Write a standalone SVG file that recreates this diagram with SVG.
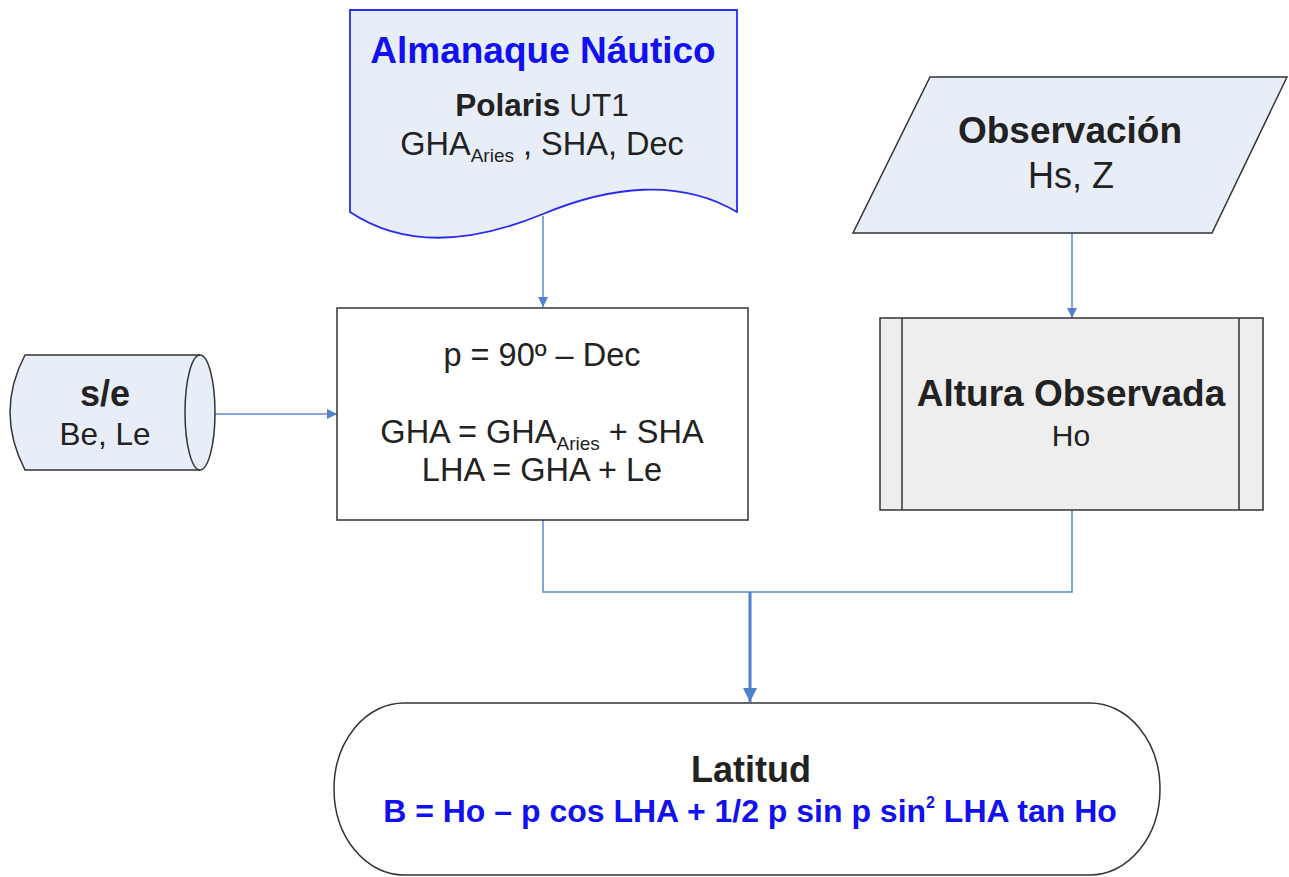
<svg xmlns="http://www.w3.org/2000/svg" width="1289" height="877" viewBox="0 0 1289 877">
  <style>
    .t { font-family: "Liberation Sans", Arial, sans-serif; fill: #222; text-anchor: middle; }
    .r { font-size: 31.5px; }
    .rl { font-size: 32.5px; }
    .b { font-size: 37px; font-weight: bold; }
    .blue, .blue tspan { fill: #1010f0; }
    .sub { font-size: 19px; }
    .shape { stroke: #333; stroke-width: 1.5; }
    .fillb { fill: #e8eef8; }
    .conn { fill: none; stroke: #5b8bd0; stroke-width: 1.5; }
    .connb { fill: none; stroke: #4f81cf; stroke-width: 3; }
  </style>
  <defs>
    <marker id="arr" viewBox="0 0 10 10" refX="10" refY="5" markerWidth="10" markerHeight="10" markerUnits="userSpaceOnUse" orient="auto">
      <path d="M0,0 L10,5 L0,10 z" fill="#4f81cf"/>
    </marker>
    <marker id="arrb" viewBox="0 0 10 10" refX="10" refY="5" markerWidth="14" markerHeight="14" markerUnits="userSpaceOnUse" orient="auto">
      <path d="M0,0 L10,5 L0,10 z" fill="#4f81cf"/>
    </marker>
  </defs>
  <rect width="1289" height="877" fill="#ffffff"/>

  <!-- connectors -->
  <g id="connectors">
    <path class="conn" d="M543,216 V307" marker-end="url(#arr)"/>
    <path class="conn" d="M1072,233 V318" marker-end="url(#arr)"/>
    <path class="conn" d="M200,414 H337" marker-end="url(#arr)"/>
    <path class="conn" d="M543,520 V592 H1072 V510"/>
    <path class="connb" d="M750,592 V702" marker-end="url(#arrb)"/>
  </g>

  <!-- document: almanac -->
  <g id="almanaque">
    <path class="fillb" d="M350,10 H737 V212 C680,178 610,186 543,214 C480,240 410,252 350,212 Z" stroke="#2a2af0" stroke-width="1.8"/>
    <text class="t b blue" x="543" y="63">Almanaque Náutico</text>
    <text class="t r" x="542" y="116"><tspan font-weight="bold">Polaris</tspan> UT1</text>
    <text class="t rl" x="542" y="155">GHA<tspan class="sub" dy="7">Aries</tspan><tspan dy="-7"> , SHA, Dec</tspan></text>
  </g>

  <!-- parallelogram: observation -->
  <g id="observacion">
    <path class="fillb shape" d="M930,77 H1287 L1212,233 H853 Z"/>
    <text class="t b" x="1070" y="143">Observación</text>
    <text class="t" x="1071" y="188" style="font-size:36px">Hs, Z</text>
  </g>

  <!-- stored data: estimated position -->
  <g id="estima">
    <path class="fillb shape" d="M25,355 H200 A15,57.5 0 0 1 200,470 H25 Q-5,412 25,355 Z"/>
    <path class="shape" fill="none" d="M200,355 A15,57.5 0 0 0 200,470"/>
    <text class="t b" x="105" y="406" style="font-size:36px">s/e</text>
    <text class="t r" x="105" y="445">Be, Le</text>
  </g>

  <!-- process: hour angles -->
  <g id="calculo">
    <rect class="shape" x="337" y="308" width="411" height="212" fill="#ffffff"/>
    <text class="t rl" x="542" y="366">p = 90º – Dec</text>
    <text class="t rl" x="542" y="443">GHA = GHA<tspan class="sub" dy="7">Aries</tspan><tspan dy="-7"> + SHA</tspan></text>
    <text class="t rl" x="542" y="481">LHA = GHA + Le</text>
  </g>

  <!-- predefined process: observed altitude -->
  <g id="altura">
    <rect class="shape" x="880" y="318" width="383" height="192" fill="#eeeeee"/>
    <line class="shape" x1="902" y1="318" x2="902" y2="510"/>
    <line class="shape" x1="1239" y1="318" x2="1239" y2="510"/>
    <text class="t b" x="1071" y="406">Altura Observada</text>
    <text class="t" x="1071" y="446" style="font-size:30px">Ho</text>
  </g>

  <!-- terminator: latitude -->
  <g id="latitud">
    <rect class="shape" x="334" y="703" width="826" height="172" rx="70" ry="86" fill="#ffffff"/>
    <text class="t b" x="751" y="782" style="font-size:36px">Latitud</text>
    <text class="t blue" x="750" y="822" style="font-size:32px;font-weight:bold">B = Ho – p cos LHA + 1/2 p sin p sin<tspan style="font-size:16px" dy="-14">2</tspan><tspan dy="14"> LHA tan Ho</tspan></text>
  </g>
</svg>
